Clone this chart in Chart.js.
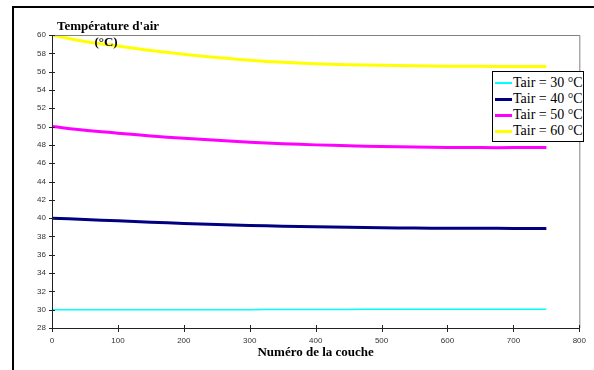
<!DOCTYPE html>
<html>
<head>
<meta charset="utf-8">
<script src="https://cdn.jsdelivr.net/npm/chart.js@4.4.0/dist/chart.umd.min.js"></script>
<style>
  html, body { margin: 0; padding: 0; background: #fff; overflow: hidden; }
  #wrap { position: relative; width: 594px; height: 370px; }
  #frame { position: absolute; left: 12px; top: 6px; width: 620px; height: 420px; border: 2px solid #000; box-sizing: border-box; pointer-events: none; }
  #legend { position: absolute; left: 492px; top: 71px; width: 92px; height: 71px; border: 1px solid #000; background: #fff; box-sizing: border-box; padding-top: 3px; overflow: hidden; font-family: "Liberation Serif", "Times New Roman", serif; font-size: 14px; }
  #legend .item { display: flex; align-items: center; height: 16px; white-space: nowrap; }
  #legend .swatch { width: 17px; margin: 0 1px 0 2px; }
</style>
</head>
<body>
<div id="wrap">
  <canvas id="chart" width="594" height="370"></canvas>
  <div id="frame"></div>
  <div id="legend"></div>
</div>
<script>
// layer numbers (x)
const layers = [0, 50, 100, 150, 200, 250, 300, 350, 400, 450, 500, 550, 600, 650, 700, 750]
// air temperature per series
const tair30 = [30, 30, 30, 30, 30, 30, 30, 30.02, 30.03, 30.03, 30.04, 30.04, 30.05, 30.05, 30.05, 30.05]
const tair40 = [40, 39.85, 39.7, 39.55, 39.42, 39.3, 39.2, 39.12, 39.05, 39.0, 38.95, 38.92, 38.9, 38.9, 38.88, 38.88]
const tair50 = [50, 49.6, 49.28, 48.98, 48.72, 48.5, 48.3, 48.13, 48.0, 47.9, 47.82, 47.76, 47.72, 47.7, 47.7, 47.7]
const tair60 = [60, 59.3, 58.8, 58.3, 57.9, 57.55, 57.25, 57.02, 56.86, 56.76, 56.7, 56.65, 56.6, 56.58, 56.56, 56.55]
const seriesLabels = ["Tair = 30 °C", "Tair = 40 °C", "Tair = 50 °C", "Tair = 60 °C"]
const seriesColors = ["#00ffff", "#000080", "#ff00ff", "#ffff00"]
const seriesWidths = [1.5, 3, 3, 3]
const xTicks = [0, 100, 200, 300, 400, 500, 600, 700, 800]
const yMin = 28, yMax = 60, yStep = 2

const allSeries = [tair30, tair40, tair50, tair60]
const datasets = allSeries.map((vals, i) => ({
    label: seriesLabels[i],
    data: layers.map((x, j) => ({ x: x, y: vals[j] })),
    borderColor: seriesColors[i],
    backgroundColor: seriesColors[i],
    borderWidth: seriesWidths[i],
    pointRadius: 0,
    tension: 0.4,
    fill: false,
}))

// titles and cross tick marks, drawn like the spreadsheet original
const decorPlugin = {
    id: "decor",
    afterDraw(chart) {
        const ctx = chart.ctx
        const area = chart.chartArea
        const xs = chart.scales.x, ys = chart.scales.y
        ctx.save()
        // plot border, top and right
        ctx.strokeStyle = "#808080"
        ctx.lineWidth = 1
        ctx.beginPath()
        ctx.moveTo(area.left, area.top + 0.5)
        ctx.lineTo(area.right + 0.5, area.top + 0.5)
        ctx.lineTo(area.right + 0.5, area.bottom)
        ctx.stroke()
        // axes
        ctx.strokeStyle = "#222"
        ctx.beginPath()
        ctx.moveTo(area.left + 0.5, area.top)
        ctx.lineTo(area.left + 0.5, area.bottom + 0.5)
        ctx.lineTo(area.right, area.bottom + 0.5)
        ctx.stroke()
        ctx.beginPath()
        for (let v = yMin; v <= yMax; v += yStep) {
            const y = Math.round(ys.getPixelForValue(v)) + 0.5
            ctx.moveTo(area.left - 3, y)
            ctx.lineTo(area.left + 3, y)
        }
        xTicks.forEach(v => {
            const x = Math.round(xs.getPixelForValue(v)) + 0.5
            ctx.moveTo(x, area.bottom - 3)
            ctx.lineTo(x, area.bottom + 4)
        })
        ctx.stroke()
        // titles
        ctx.fillStyle = "#000"
        ctx.font = "bold 13px 'Liberation Serif', 'Times New Roman', serif"
        ctx.textAlign = "center"
        ctx.textBaseline = "middle"
        ctx.fillText("Température d'air", 108, 27)
        ctx.fillText("(°C)", 106, 43)
        ctx.fillText("Numéro de la couche", (area.left + area.right) / 2, 353)
        ctx.restore()
    }
}

new Chart(document.getElementById("chart"), {
    type: "line",
    data: { datasets: datasets },
    options: {
        responsive: false,
        animation: false,
        layout: { padding: { left: 0, top: 35, right: 9, bottom: 0 } },
        plugins: { legend: { display: false }, tooltip: { enabled: false } },
        scales: {
            x: {
                type: "linear",
                min: 0,
                max: 800,
                grid: { display: false, drawTicks: false },
                border: { display: false },
                afterBuildTicks: (axis) => { axis.ticks = xTicks.map(v => ({ value: v })) },
                afterFit: (axis) => { axis.height = 42 },
                ticks: { padding: 8, maxRotation: 0, color: "#333", font: { family: "Arial, 'Liberation Sans', sans-serif", size: 8 } },
            },
            y: {
                min: yMin,
                max: yMax,
                grid: { display: false, drawTicks: false },
                border: { display: false },
                afterFit: (axis) => { axis.width = 52 },
                ticks: { stepSize: yStep, padding: 6, color: "#333", font: { family: "Arial, 'Liberation Sans', sans-serif", size: 8 } },
            },
        },
    },
    plugins: [decorPlugin],
})

// legend from the same arrays
const legend = document.getElementById("legend")
seriesLabels.forEach((label, i) => {
    const item = document.createElement("div")
    item.className = "item"
    const sw = document.createElement("span")
    sw.className = "swatch"
    sw.style.borderTop = Math.max(2, seriesWidths[i]) + "px solid " + seriesColors[i]
    item.appendChild(sw)
    item.appendChild(document.createTextNode(label))
    legend.appendChild(item)
})
</script>
</body>
</html>
